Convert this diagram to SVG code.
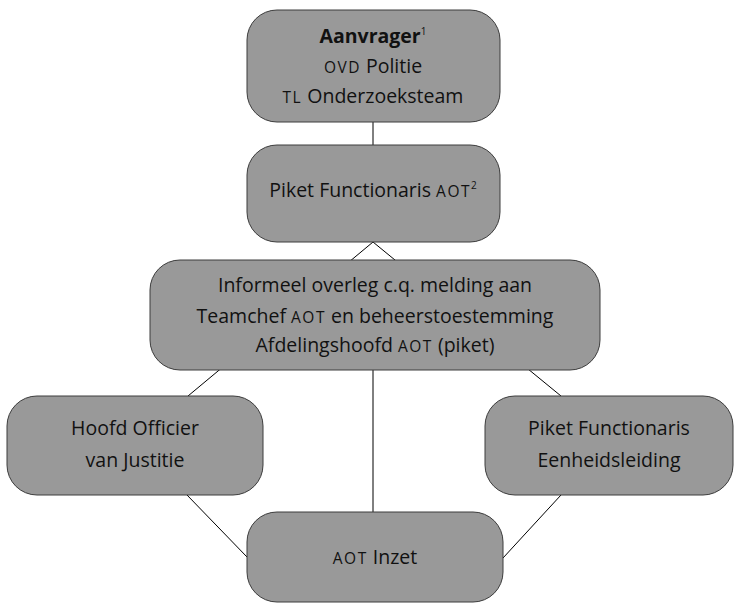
<svg xmlns="http://www.w3.org/2000/svg" width="735" height="605" viewBox="0 0 735 605">
<style>
.box{fill:#999999;stroke:#3c3c3c;stroke-width:1}
.lbl{font-family:"Open Sans","Noto Sans",sans-serif;font-size:19.5px;fill:#111111;text-anchor:middle}
.sc{font-size:15.5px;letter-spacing:1.5px}
.sup{font-size:10px}
.cn{stroke:#000000;stroke-width:1;fill:none}
</style>
<rect width="735" height="605" fill="#ffffff"/>
<g id="connectors">
<line class="cn" x1="373" y1="122" x2="373" y2="145"/>
<line class="cn" x1="373" y1="242" x2="188" y2="396"/>
<line class="cn" x1="373" y1="242" x2="561" y2="396"/>
<line class="cn" x1="373" y1="370" x2="373" y2="512"/>
<line class="cn" x1="187" y1="495" x2="247" y2="557"/>
<line class="cn" x1="561" y1="495" x2="503" y2="558"/>
</g>
<g id="aanvrager">
<rect class="box" x="247" y="10" width="253" height="112" rx="30" ry="30"/>
<text class="lbl" x="373" y="43"><tspan font-weight="bold">Aanvrager</tspan><tspan class="sup" dy="-8">1</tspan></text>
<text class="lbl" x="373" y="73"><tspan class="sc">OVD</tspan> Politie</text>
<text class="lbl" x="373" y="103"><tspan class="sc">TL</tspan> Onderzoeksteam</text>
</g>
<g id="piket-aot">
<rect class="box" x="247" y="145" width="253" height="97" rx="30" ry="30"/>
<text class="lbl" x="373" y="197">Piket Functionaris <tspan class="sc">AOT</tspan><tspan class="sup" dy="-8">2</tspan></text>
</g>
<g id="overleg">
<rect class="box" x="150" y="260" width="450" height="110" rx="30" ry="30"/>
<text class="lbl" x="375" y="292">Informeel overleg c.q. melding aan</text>
<text class="lbl" x="375" y="323">Teamchef <tspan class="sc">AOT</tspan> en beheerstoestemming</text>
<text class="lbl" x="375" y="352">Afdelingshoofd <tspan class="sc">AOT</tspan> (piket)</text>
</g>
<g id="hoofd-officier">
<rect class="box" x="7" y="396" width="256" height="99" rx="30" ry="30"/>
<text class="lbl" x="135" y="435">Hoofd Officier</text>
<text class="lbl" x="135" y="467">van Justitie</text>
</g>
<g id="piket-eenheid">
<rect class="box" x="485" y="396" width="248" height="99" rx="30" ry="30"/>
<text class="lbl" x="609" y="435">Piket Functionaris</text>
<text class="lbl" x="609" y="467">Eenheidsleiding</text>
</g>
<g id="aot-inzet">
<rect class="box" x="247" y="512" width="256" height="90" rx="30" ry="30"/>
<text class="lbl" x="375" y="564"><tspan class="sc">AOT</tspan> Inzet</text>
</g>
</svg>
